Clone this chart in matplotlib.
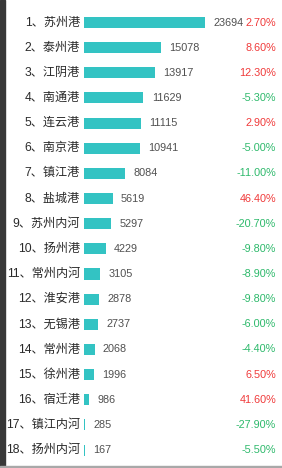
import matplotlib
matplotlib.use("Agg")
import matplotlib.pyplot as plt
import matplotlib.transforms as mtransforms
from matplotlib.patches import Rectangle

plt.rcParams['font.family'] = ['Liberation Sans', 'Noto Sans CJK SC', 'DejaVu Sans']

ports = ['苏州港', '泰州港', '江阴港', '南通港', '连云港', '南京港', '镇江港', '盐城港',
         '苏州内河', '扬州港', '常州内河', '淮安港', '无锡港', '常州港', '徐州港', '宿迁港',
         '镇江内河', '扬州内河']
values = [23694, 15078, 13917, 11629, 11115, 10941, 8084, 5619,
          5297, 4229, 3105, 2878, 2737, 2068, 1996, 986, 285, 167]
growth = [2.70, 8.60, 12.30, -5.30, 2.90, -5.00, -11.00, 46.40,
          -20.70, -9.80, -8.90, -9.80, -6.00, -4.40, 6.50, 41.60, -27.90, -5.50]

W, H = 282, 468
fig = plt.figure(figsize=(W / 100, H / 100), dpi=100)
fig.patch.set_facecolor('white')

# axes starts where the bars start
x0 = 84
ax = fig.add_axes([x0 / W, 0, 1 - x0 / W, 1])
ax.set_axis_off()

n = len(values)
top, step = 22.5, 25.15
ax.set_ylim(n - 1 + (H - (top + step * (n - 1))) / step, -top / step)
ax.set_xlim(0, values[0] * (W - x0) / 121.0)

ypos = list(range(n))
ax.barh(ypos, values, height=0.44, color='#33c3c3', linewidth=0)

trans = mtransforms.blended_transform_factory(fig.transFigure, ax.transData)
for i in range(n):
    ax.text(80 / W, ypos[i], f'{i + 1}、{ports[i]}', transform=trans,
            ha='right', va='center', fontsize=8.7, color='#2a2a2a')
    ax.annotate(str(values[i]), xy=(values[i], ypos[i]), xytext=(6, 0),
                textcoords='offset points', ha='left', va='center',
                fontsize=7.8, color='#505050')
    c = '#f03a3a' if growth[i] > 0 else '#2db96b'
    ax.text(276 / W, ypos[i], f'{growth[i]:.2f}%', transform=trans,
            ha='right', va='center', fontsize=7.8, color=c)

# frame edges seen in the screenshot
fig.patches.append(Rectangle((0, 0), 5 / W, 1, transform=fig.transFigure,
                             color='#383838', zorder=5))
fig.patches.append(Rectangle((0, 0), 1, 2 / H, transform=fig.transFigure,
                             color='#a8a8a8', zorder=5))

fig.savefig('out.png', dpi=100)
